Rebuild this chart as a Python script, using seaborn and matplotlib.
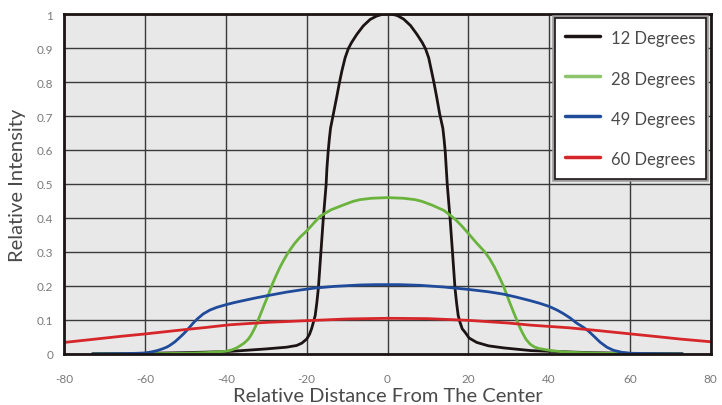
import numpy as np
import pandas as pd
import matplotlib
matplotlib.use('Agg')
import matplotlib.pyplot as plt
import matplotlib.patheffects as pe
import seaborn as sns

# data
x12 = [-73, -60, -50, -40, -36, -30, -25, -22.5, -21.2, -20, -19.3, -18.8, -18.3, -17.9,
       -17.5, -17.1, -16.5, -15.9, -15.2, -15.0, -14.7, -14.4, -14.1, -13.3, -12.6, -11.9,
       -11.3, -10.5, -9.7, -8.9, -7.6, -6, -4.3, -2.7, -1, 0,
       1, 2.5, 4, 5.7, 7.3, 8.6, 9.4, 10.2, 10.9, 11.5, 12.2, 12.9, 13.7, 14.0, 14.3,
       14.55, 14.8, 15.5, 16.1, 16.7, 17.1, 17.5, 17.9, 18.5, 19.2, 20.2, 22.1, 25, 28.7,
       35.5, 40, 50, 60, 73]
y12 = [0.001, 0.002, 0.004, 0.007, 0.01, 0.015, 0.02, 0.025, 0.032, 0.044, 0.058, 0.074,
       0.095, 0.113, 0.15, 0.195, 0.297, 0.397, 0.497, 0.545, 0.594, 0.632, 0.664, 0.712,
       0.754, 0.798, 0.832, 0.871, 0.898, 0.916, 0.94, 0.965, 0.984, 0.994, 1.0, 1.0,
       1.0, 0.995, 0.985, 0.966, 0.94, 0.916, 0.898, 0.871, 0.832, 0.798, 0.754, 0.707,
       0.664, 0.632, 0.594, 0.545, 0.497, 0.397, 0.297, 0.195, 0.15, 0.113, 0.095, 0.074,
       0.064, 0.047, 0.034, 0.024, 0.018, 0.01, 0.008, 0.004, 0.002, 0.001]

x28 = [-73, -60, -50, -45, -40, -38.6, -37.5, -36.5, -35.5, -34.5, -33.8, -33.3, -32.7,
       -32.2, -31.6, -31, -30.4, -29.8, -28.7, -27.6, -26.5, -25.5, -24.5, -23, -21.7,
       -20, -18.4, -16.7, -14, -11, -8.5, -6.8, -4, -2, 0,
       2, 4, 6.8, 8.5, 11, 14, 16.7, 18.5, 20.2, 22, 24.1, 25.3, 26.5, 27.6, 28.7, 29.5,
       30.3, 31.2, 32, 32.8, 33.5, 34.3, 35.3, 36.3, 37.5, 40, 43.5, 50, 60, 73]
y28 = [0.0, 0.001, 0.002, 0.004, 0.008, 0.012, 0.017, 0.024, 0.032, 0.043, 0.055, 0.066,
       0.08, 0.095, 0.112, 0.13, 0.148, 0.165, 0.2, 0.23, 0.258, 0.28, 0.3, 0.325, 0.343,
       0.362, 0.383, 0.405, 0.424, 0.438, 0.449, 0.454, 0.458, 0.459, 0.46,
       0.459, 0.458, 0.454, 0.449, 0.438, 0.422, 0.397, 0.375, 0.352, 0.327, 0.3, 0.28,
       0.255, 0.228, 0.2, 0.175, 0.15, 0.123, 0.1, 0.077, 0.06, 0.043, 0.029, 0.021,
       0.016, 0.011, 0.006, 0.003, 0.001, 0.0]

x49 = [-73, -66, -62, -60, -58.5, -57, -55.5, -54.5, -53.8, -52.6, -51.4, -50.5, -49.7,
       -48.9, -48.1, -47, -45.6, -44, -42.3, -40, -38, -36.5, -33, -30, -25, -21.7, -18,
       -13, -6.8, -3, 0,
       3, 8, 14, 20, 25, 28.7, 32, 35.3, 37.7, 40, 42, 43.5, 45.2, 46.8, 48.3, 49.7,
       51.2, 52.6, 54.3, 55.9, 58, 60.2, 66, 73]
y49 = [0.0, 0.001, 0.002, 0.003, 0.006, 0.01, 0.016, 0.021, 0.026, 0.036, 0.049, 0.059,
       0.069, 0.08, 0.091, 0.104, 0.118, 0.129, 0.137, 0.145, 0.151, 0.155, 0.164, 0.171,
       0.182, 0.188, 0.194, 0.199, 0.203, 0.204, 0.204,
       0.204, 0.202, 0.197, 0.19, 0.183, 0.176, 0.167, 0.157, 0.149, 0.14, 0.129, 0.119,
       0.106, 0.091, 0.08, 0.068, 0.051, 0.035, 0.02, 0.011, 0.005, 0.002, 0.001, 0.0]

x60 = [-80, -73, -66, -60, -50, -45, -39, -30, -20, -10, 0, 10, 20, 30, 35.3, 45, 52,
       60.2, 66, 72.4, 80]
y60 = [0.034, 0.043, 0.052, 0.059, 0.072, 0.078, 0.086, 0.093, 0.098, 0.103, 0.105,
       0.104, 0.099, 0.091, 0.085, 0.077, 0.069, 0.059, 0.052, 0.044, 0.036]

names = ['12 Degrees', '28 Degrees', '49 Degrees', '60 Degrees']
colors = ['#1c1414', '#6ab43e', '#1f4b9a', '#d6262a']

x_ticks = [-80, -60, -40, -20, 0, 20, 40, 60, 80]
y_ticks = [0, 0.1, 0.2, 0.3, 0.4, 0.5, 0.6, 0.7, 0.8, 0.9, 1.0]
y_labels = ['0', '0.1', '0.2', '0.3', '0.4', '0.5', '0.6', '0.7', '0.8', '0.9', '1']

df = pd.concat([
    pd.DataFrame({'x': x12, 'y': y12, 'beam': names[0]}),
    pd.DataFrame({'x': x28, 'y': y28, 'beam': names[1]}),
    pd.DataFrame({'x': x49, 'y': y49, 'beam': names[2]}),
    pd.DataFrame({'x': x60, 'y': y60, 'beam': names[3]}),
])

sns.set_style('white')
plt.rcParams['font.family'] = ['Lato', 'DejaVu Sans']

fig = plt.figure(figsize=(7.22, 4.06), dpi=100)
ax = fig.add_axes([64.3 / 722, 51 / 406, 646.4 / 722, 340 / 406])
ax.set_facecolor('#e8e8e8')

sns.lineplot(data=df, x='x', y='y', hue='beam', hue_order=names,
             palette=colors, linewidth=2.0, ax=ax, sort=True, estimator=None)

ax.set_xlim(-80, 80)
ax.set_ylim(0, 1)
ax.set_xticks(x_ticks)
ax.set_xticklabels([str(t) for t in x_ticks])
ax.set_yticks(y_ticks)
ax.set_yticklabels(y_labels)
ax.grid(True, color='#3a3a3a', linewidth=1.0)
ax.set_axisbelow(True)
ax.tick_params(length=0, labelsize=8.5, labelcolor='#7a7a7a')
ax.tick_params(axis='x', pad=14)
ax.tick_params(axis='y', pad=8)
for s in ax.spines.values():
    s.set_visible(True)
    s.set_color('#1c1414')
    s.set_linewidth(2)

ax.set_xlabel('Relative Distance From The Center', fontsize=14.5, color='#4a4a4a',
              labelpad=2)
ax.set_ylabel('Relative Intensity', fontsize=14.5, color='#4a4a4a', labelpad=8)

leg = ax.legend(loc='upper right', bbox_to_anchor=(1 - 5 / 646.4, 1 - 4 / 340),
                borderaxespad=0, fontsize=12, frameon=True, fancybox=False,
                labelspacing=1.27, handlelength=2.05, handleheight=1.4,
                handletextpad=0.7, borderpad=0.6, title=None)
frame = leg.get_frame()
frame.set_facecolor('white')
frame.set_edgecolor('#1c1414')
frame.set_linewidth(1.2)
frame.set_alpha(1)
frame.set_path_effects([pe.withStroke(linewidth=4, foreground='#9a9a9a')])
for t in leg.get_texts():
    t.set_color('#4a4a4a')
for h in leg.get_lines():
    h.set_linewidth(2.5)
leg.get_lines()[1].set_color('#8cc46c')

fig.savefig('out.png', dpi=100, facecolor='white')
